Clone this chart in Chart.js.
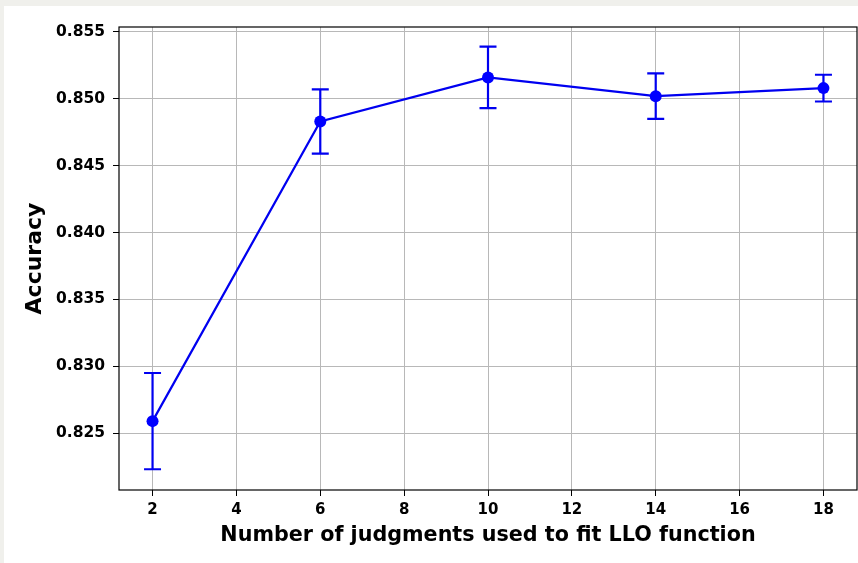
<!DOCTYPE html>
<html>
<head>
<meta charset="utf-8">
<script src="https://cdn.jsdelivr.net/npm/chart.js@4.4.1/dist/chart.umd.min.js"></script>
<style>
  html, body { margin: 0; padding: 0; background: #f0f0ec; }
  canvas { display: block; }
</style>
</head>
<body>
<canvas id="chart" width="858" height="563"></canvas>
<script>
// judgments used to fit LLO function
const judgments = [2, 6, 10, 14, 18];
const accuracy = [0.8259, 0.8483, 0.8516, 0.8502, 0.8508];
const accuracyErr = [0.0036, 0.0024, 0.0023, 0.0017, 0.0010];
const xTicks = [2, 4, 6, 8, 10, 12, 14, 16, 18];
const yTicks = [0.825, 0.830, 0.835, 0.840, 0.845, 0.850, 0.855];

const FONT = "'DejaVu Sans', sans-serif";

const background = {
  id: "background",
  beforeDraw(chart) {
    const { ctx, width, height } = chart;
    ctx.save();
    ctx.fillStyle = "#f0f0ec";
    ctx.fillRect(0, 0, width, height);
    ctx.fillStyle = "#ffffff";
    ctx.fillRect(4, 6, width - 4, height - 6);
    ctx.restore();
  },
};

const errorBars = {
  id: "errorBars",
  beforeDatasetsDraw(chart) {
    const { ctx, scales: { x, y } } = chart;
    ctx.save();
    ctx.strokeStyle = "#0000f0";
    ctx.lineWidth = 2.2;
    judgments.forEach((j, i) => {
      const px = x.getPixelForValue(j);
      const top = y.getPixelForValue(accuracy[i] + accuracyErr[i]);
      const bot = y.getPixelForValue(accuracy[i] - accuracyErr[i]);
      ctx.beginPath();
      ctx.moveTo(px, top);
      ctx.lineTo(px, bot);
      ctx.moveTo(px - 8.5, top);
      ctx.lineTo(px + 8.5, top);
      ctx.moveTo(px - 8.5, bot);
      ctx.lineTo(px + 8.5, bot);
      ctx.stroke();
    });
    ctx.restore();
  },
};

const frame = {
  id: "frame",
  afterDraw(chart) {
    const { ctx, chartArea: a } = chart;
    ctx.save();
    ctx.strokeStyle = "#000";
    ctx.lineWidth = 1.2;
    ctx.strokeRect(a.left, a.top, a.right - a.left, a.bottom - a.top);
    ctx.restore();
  },
};

new Chart(document.getElementById("chart"), {
  type: "line",
  data: {
    datasets: [
      {
        data: judgments.map((j, i) => ({ x: j, y: accuracy[i] })),
        borderColor: "#0000f0",
        backgroundColor: "blue",
        borderWidth: 2.2,
        pointRadius: 6,
        pointBorderWidth: 0,
        pointBackgroundColor: "blue",
        tension: 0,
      },
    ],
  },
  options: {
    responsive: false,
    animation: false,
    events: [],
    layout: { autoPadding: false, padding: { top: 27, right: 1, left: 0, bottom: 0 } },
    plugins: { legend: { display: false }, tooltip: { enabled: false } },
    scales: {
      x: {
        type: "linear",
        min: 1.2,
        max: 18.8,
        afterBuildTicks: (s) => { s.ticks = xTicks.map((v) => ({ value: v })); },
        afterFit: (s) => { s.height = 73; },
        border: { display: false },
        grid: { color: "#b8b8b8", lineWidth: 1, tickColor: "#000", tickLength: 6 },
        ticks: {
          color: "#000",
          padding: 5,
          maxRotation: 0,
          font: { family: FONT, size: 15, weight: "bold" },
          callback: (v) => String(v),
        },
        title: {
          display: true,
          text: "Number of judgments used to fit LLO function",
          color: "#000",
          font: { family: FONT, size: 20.7, weight: "bold" },
          padding: { top: 0, bottom: 15 },
        },
      },
      y: {
        min: 0.82075,
        max: 0.85537,
        afterBuildTicks: (s) => { s.ticks = yTicks.map((v) => ({ value: v })); },
        afterFit: (s) => { s.width = 119; },
        border: { display: false },
        grid: { color: "#b8b8b8", lineWidth: 1, tickColor: "#000", tickLength: 6 },
        ticks: {
          color: "#000",
          padding: 8,
          font: { family: FONT, size: 15.5, weight: "bold" },
          callback: (v) => v.toFixed(3),
        },
        title: {
          display: true,
          text: "Accuracy",
          color: "#000",
          font: { family: FONT, size: 22, weight: "bold" },
          padding: { top: 22.5, bottom: 0 },
        },
      },
    },
  },
  plugins: [background, errorBars, frame],
});
</script>
</body>
</html>
